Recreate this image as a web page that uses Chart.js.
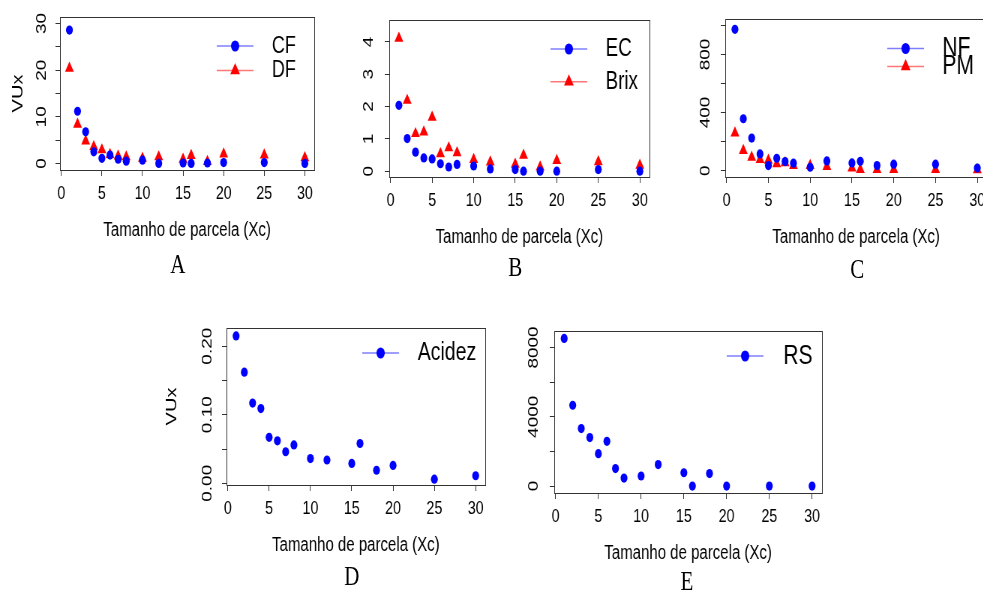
<!DOCTYPE html>
<html>
<head>
<meta charset="utf-8">
<script src="https://cdn.jsdelivr.net/npm/chart.js@4/dist/chart.umd.min.js"></script>
<style>
html, body { margin: 0; padding: 0; background: #fff; overflow: hidden; }
/* panels are laid out wide, then squeezed horizontally */
#sheet { position: relative; width: 1311px; height: 592px; transform: scaleX(0.75); transform-origin: 0 0; }
#sheet canvas { position: absolute; }
.panel-letter { position: absolute; width: 100px; text-align: center; font: 28px/1 "Liberation Serif", "Times New Roman", serif; color: #000; }
</style>
</head>
<body>
<div id="sheet">
  <canvas id="chart-a" width="439" height="233" style="left:-10px;top:7px"></canvas>
  <canvas id="chart-b" width="447" height="237" style="left:429px;top:10px"></canvas>
  <canvas id="chart-c" width="449" height="238" style="left:877px;top:9px"></canvas>
  <canvas id="chart-d" width="445" height="237" style="left:212px;top:318px"></canvas>
  <canvas id="chart-e" width="457" height="242" style="left:649px;top:321px"></canvas>
  <div class="panel-letter" style="left:187px;top:250px">A</div>
  <div class="panel-letter" style="left:637px;top:253px">B</div>
  <div class="panel-letter" style="left:1093px;top:255px">C</div>
  <div class="panel-letter" style="left:419px;top:562px">D</div>
  <div class="panel-letter" style="left:866px;top:567px">E</div>
</div>
<script>
// plot sizes (Xc) shared by every series
const plotSizes = [1, 2, 3, 4, 5, 6, 7, 8, 10, 12, 15, 16, 18, 20, 25, 30];
const xTicks = [0, 5, 10, 15, 20, 25, 30];

const cfValues = [28.6, 11.2, 6.8, 2.5, 1.1, 1.8, 0.9, 0.5, 0.7, 0, 0.1, 0, 0.1, 0.2, 0.2, 0];
const dfValues = [20.4, 8.4, 4.8, 3.6, 2.9, 1.9, 1.6, 1.4, 1.1, 1.4, 0.9, 1.7, 0.4, 2.0, 1.8, 1.2];
const ecValues = [2.04, 1.01, 0.59, 0.41, 0.38, 0.23, 0.13, 0.21, 0.16, 0.07, 0.05, 0, 0, 0, 0.05, 0];
const brixValues = [4.11, 2.19, 1.16, 1.21, 1.67, 0.54, 0.72, 0.57, 0.36, 0.28, 0.21, 0.49, 0.13, 0.33, 0.29, 0.18];
const nfValues = [973, 357, 224, 115, 35, 85, 62, 51, 23, 67, 53, 64, 35, 44, 44, 18];
const pmValues = [258, 138, 92, 76, 71, 46, 53, 35, 35, 28, 18, 7, 7, 7, 7, 5];
const acidezValues = [0.215, 0.162, 0.117, 0.109, 0.067, 0.062, 0.046, 0.056, 0.036, 0.034, 0.029, 0.058, 0.019, 0.026, 0.006, 0.011];
const rsValues = [8520, 4665, 3320, 2800, 1870, 2580, 1010, 460, 580, 1240, 770, 0, 720, 0, 0, 0];

// y ticks, and the ones that get a label
const yTicksA = [0, 5, 10, 15, 20, 25, 30];
const yLabelsA = [0, 10, 20, 30];
const yTicksB = [0, 1, 2, 3, 4];
const yLabelsB = [0, 1, 2, 3, 4];
const yTicksC = [0, 200, 400, 600, 800, 1000];
const yLabelsC = [0, 400, 800];
const yTicksD = [0, 0.05, 0.10, 0.15, 0.20];
const yLabelsD = [0, 0.10, 0.20];
const yTicksE = [0, 2000, 4000, 6000, 8000];
const yLabelsE = [0, 4000, 8000];

const BLUE = '#0000ff';
const RED = '#ff0000';
const BLUE_LINE = 'rgba(40, 40, 255, 0.6)';
const RED_LINE = 'rgba(255, 30, 30, 0.6)';
const SANS = '"Liberation Sans", Arial, sans-serif';
const INK = '#000';
const AXIS = '#333';

Chart.defaults.font.family = SANS;

function points(values) {
    return plotSizes.map((x, i) => ({ x: x, y: values[i] }));
}

function drawSymbol(ctx, style, r, x, y) {
    ctx.beginPath();
    if (style === 'triangle') {
        for (let k = 0; k < 3; k++) {
            const a = -Math.PI / 2 + k * 2 * Math.PI / 3;
            const px = x + Math.cos(a) * r;
            const py = y + Math.sin(a) * r;
            if (k === 0) ctx.moveTo(px, py); else ctx.lineTo(px, py);
        }
        ctx.closePath();
    } else {
        ctx.arc(x, y, r, 0, Math.PI * 2);
    }
    ctx.fill();
}

// frame around the plotting region, like R's box()
const plotBox = {
    id: 'plotBox',
    beforeDatasetsDraw(chart) {
        const { ctx, chartArea: a } = chart;
        ctx.save();
        ctx.strokeStyle = AXIS;
        ctx.lineWidth = 1;
        const l = Math.round(a.left) + 0.5, t = Math.round(a.top) + 0.5;
        const r = Math.round(a.right) + 0.5, b = Math.round(a.bottom) + 0.5;
        ctx.strokeRect(l, t, r - l, b - t);
        ctx.restore();
    }
};

// line + symbol legend in the top right corner, no frame
const rLegend = {
    id: 'rLegend',
    afterDatasetsDraw(chart, args, opts) {
        const { ctx, chartArea } = chart;
        ctx.save();
        chart.data.datasets.forEach((ds, i) => {
            const x0 = chartArea.right - opts.right;
            const y = chartArea.top + opts.top + i * opts.gap;
            ctx.strokeStyle = ds.legendLine;
            ctx.lineWidth = 1.5;
            ctx.beginPath();
            ctx.moveTo(x0, y);
            ctx.lineTo(x0 + 49, y);
            ctx.stroke();
            ctx.fillStyle = ds.backgroundColor;
            drawSymbol(ctx, ds.pointStyle, ds.pointStyle === 'triangle' ? 7.5 : 5.5, x0 + 24.5, y);
            ctx.fillStyle = INK;
            ctx.font = opts.size + 'px ' + SANS;
            ctx.textBaseline = 'middle';
            ctx.textAlign = 'left';
            ctx.fillText(ds.label, x0 + opts.textAt, y);
        });
        ctx.restore();
    }
};

function makePanel(canvasId, panel) {
    const gridStyle = { display: true, drawOnChartArea: false, drawTicks: true, tickLength: 6, color: AXIS, lineWidth: 1 };
    const borderStyle = { display: true, color: AXIS, width: 1 };
    const tickFont = { size: 19, lineHeight: 1 };
    const titleFont = { size: 20, lineHeight: 1 };

    new Chart(document.getElementById(canvasId), {
        type: 'scatter',
        data: {
            datasets: panel.series.map(s => ({
                label: s.label,
                data: points(s.values),
                pointStyle: s.shape,
                pointRadius: s.shape === 'triangle' ? 6.8 : 4.6,
                pointHoverRadius: s.shape === 'triangle' ? 6.8 : 4.6,
                backgroundColor: s.color,
                borderColor: s.color,
                borderWidth: 0,
                clip: false,
                legendLine: s.line
            }))
        },
        options: {
            responsive: false,
            animation: false,
            devicePixelRatio: 1,
            layout: { padding: { top: 10, right: 10, left: 0, bottom: 0 } },
            plugins: {
                legend: { display: false },
                tooltip: { enabled: false },
                rLegend: panel.legend
            },
            scales: {
                x: {
                    type: 'linear',
                    min: -0.16,
                    max: 31.16,
                    afterBuildTicks: s => { s.ticks = xTicks.map(v => ({ value: v })); },
                    afterFit: s => {
                        s.height = 70;
                        s.paddingLeft = 0;
                        s.paddingRight = 0;
                    },
                    grid: gridStyle,
                    border: borderStyle,
                    ticks: { font: tickFont, color: INK, padding: 8, minRotation: 0, maxRotation: 0, autoSkip: false },
                    title: { display: true, text: 'Tamanho de parcela (Xc)', font: titleFont, color: INK, padding: 0 }
                },
                y: {
                    type: 'linear',
                    min: panel.yMin,
                    max: panel.yMax,
                    afterBuildTicks: s => { s.ticks = panel.yTicks.map(v => ({ value: v })); },
                    afterFit: s => {
                        s.width = 90;
                        s.paddingTop = 0;
                        s.paddingBottom = 0;
                    },
                    grid: gridStyle,
                    border: borderStyle,
                    ticks: {
                        font: tickFont,
                        color: INK,
                        padding: panel.yPad,
                        minRotation: 90,
                        maxRotation: 90,
                        crossAlign: 'center',
                        autoSkip: false,
                        callback: v => panel.yLabels.some(l => Math.abs(l - v) < 1e-9) ? panel.fmt(v) : ''
                    },
                    title: {
                        display: panel.yTitle,
                        text: 'VUx',
                        font: titleFont,
                        color: INK,
                        padding: { top: panel.yTitlePad, bottom: 0 }
                    }
                }
            }
        },
        plugins: [plotBox, rLegend]
    });
}

const plain = v => String(v);

makePanel('chart-a', {
    series: [
        { label: 'CF', values: cfValues, shape: 'circle', color: BLUE, line: BLUE_LINE },
        { label: 'DF', values: dfValues, shape: 'triangle', color: RED, line: RED_LINE }
    ],
    yMin: -1.4, yMax: 31.4, yTicks: yTicksA, yLabels: yLabelsA, fmt: plain, yPad: 8,
    yTitle: true, yTitlePad: 24,
    legend: { right: 130, top: 29, gap: 24.5, size: 24, textAt: 73.5 }
});

makePanel('chart-b', {
    series: [
        { label: 'EC', values: ecValues, shape: 'circle', color: BLUE, line: BLUE_LINE },
        { label: 'Brix', values: brixValues, shape: 'triangle', color: RED, line: RED_LINE }
    ],
    yMin: -0.18, yMax: 4.68, yTicks: yTicksB, yLabels: yLabelsB, fmt: plain, yPad: 16,
    yTitle: false, yTitlePad: 0,
    legend: { right: 132, top: 29, gap: 32.7, size: 25, textAt: 73.5 }
});

makePanel('chart-c', {
    series: [
        { label: 'NF', values: nfValues, shape: 'circle', color: BLUE, line: BLUE_LINE },
        { label: 'PM', values: pmValues, shape: 'triangle', color: RED, line: RED_LINE }
    ],
    yMin: -44, yMax: 1044, yTicks: yTicksC, yLabels: yLabelsC, fmt: plain, yPad: 4,
    yTitle: false, yTitlePad: 0,
    legend: { right: 133, top: 29.5, gap: 18, size: 28, textAt: 73.5 }
});

makePanel('chart-d', {
    series: [
        { label: 'Acidez', values: acidezValues, shape: 'circle', color: BLUE, line: BLUE_LINE }
    ],
    yMin: -0.0025, yMax: 0.2265, yTicks: yTicksD, yLabels: yLabelsD, fmt: v => v.toFixed(2), yPad: 1,
    yTitle: true, yTitlePad: 7,
    legend: { right: 164, top: 25, gap: 0, size: 26, textAt: 74 }
});

makePanel('chart-e', {
    series: [
        { label: 'RS', values: rsValues, shape: 'circle', color: BLUE, line: BLUE_LINE }
    ],
    yMin: -400, yMax: 8950, yTicks: yTicksE, yLabels: yLabelsE, fmt: plain, yPad: 0,
    yTitle: false, yTitlePad: 0,
    legend: { right: 127, top: 25, gap: 0, size: 28, textAt: 75.5 }
});
</script>
</body>
</html>
